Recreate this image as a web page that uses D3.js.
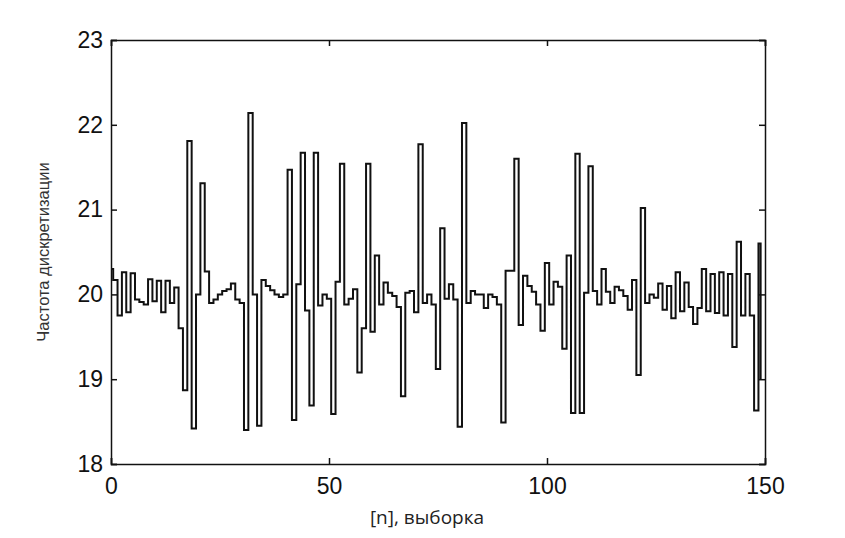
<!DOCTYPE html>
<html>
<head>
<meta charset="utf-8">
<script src="https://cdn.jsdelivr.net/npm/d3@7"></script>
<style>
  html, body { margin: 0; padding: 0; background: #fff; }
  svg { display: block; }
</style>
</head>
<body>
<svg id="chart" width="845" height="538"></svg>
<script>
// Sample values (n = 0..149)
const freq = [
  20.30, 20.17, 19.75, 20.26, 19.79, 20.25, 19.94, 19.91, 19.88, 20.18,
  19.92, 20.16, 19.79, 20.16, 19.90, 20.08, 19.60, 18.87, 21.81, 18.42,
  20.00, 21.31, 20.27, 19.90, 19.94, 20.00, 20.04, 20.06, 20.13, 19.94,
  19.90, 18.40, 22.14, 20.00, 18.45, 20.17, 20.10, 20.05, 20.00, 19.97,
  20.00, 21.47, 18.52, 20.12, 21.67, 19.81, 18.69, 21.67, 19.87, 20.00,
  19.95, 18.59, 20.15, 21.54, 19.88, 19.95, 20.06, 19.08, 19.60, 21.54,
  19.56, 20.46, 19.88, 20.14, 20.02, 19.98, 19.85, 18.80, 20.02, 20.04,
  19.79, 21.77, 19.90, 20.00, 19.88, 19.12, 20.78, 19.95, 20.12, 19.94,
  18.44, 22.02, 19.90, 20.04, 20.00, 20.00, 19.84, 20.00, 19.97, 19.88,
  18.49, 20.28, 20.28, 21.60, 19.64, 20.22, 20.10, 20.03, 19.88, 19.57,
  20.37, 19.88, 20.15, 20.09, 19.36, 20.46, 18.60, 21.66, 18.60, 20.02,
  21.51, 20.04, 19.88, 20.30, 20.03, 19.90, 20.09, 20.05, 19.98, 19.82,
  20.17, 19.05, 21.02, 19.90, 20.00, 19.96, 20.13, 19.82, 20.10, 19.72,
  20.26, 19.80, 20.14, 19.85, 19.65, 19.84, 20.30, 19.80, 20.24, 19.78,
  20.26, 19.75, 20.24, 19.38, 20.62, 19.75, 20.24, 19.75, 18.63, 20.60
];
const finalValue = 19.0;          // last point drawn as a drop at the final sample
const xTicks = [0, 50, 100, 150];
const yTicks = [18, 19, 20, 21, 22, 23];
const xDomain = [0, 150];
const yDomain = [18, 23];
const xLabel = "[n], выборка";
const yLabel = "Частота дискретизации";

const svg = d3.select("#chart");
const plot = { left: 111, right: 765, top: 40, bottom: 464 };

const x = d3.scaleLinear().domain(xDomain).range([plot.left, plot.right]);
const y = d3.scaleLinear().domain(yDomain).range([plot.bottom, plot.top]);

const pts = freq.map((v, i) => [i, v]);
pts.push([freq.length - 1, finalValue]);

const line = d3.line()
  .x(d => x(d[0]))
  .y(d => y(d[1]))
  .curve(d3.curveStep);

svg.append("path")
  .datum(pts)
  .attr("fill", "none")
  .attr("stroke", "#111")
  .attr("stroke-width", 2)
  .attr("stroke-linejoin", "miter")
  .attr("d", line);

const tickFont = "'Liberation Sans', Arial, sans-serif";

// Left axis (inward ticks)
const gl = svg.append("g").attr("transform", `translate(${plot.left},0)`)
  .call(d3.axisLeft(y).tickValues(yTicks).tickSize(-6).tickPadding(8).tickFormat(d3.format("d")));
// Right axis (inward ticks, no labels)
const gr = svg.append("g").attr("transform", `translate(${plot.right},0)`)
  .call(d3.axisRight(y).tickValues(yTicks).tickSize(-6).tickFormat(""));
// Bottom axis
const gb = svg.append("g").attr("transform", `translate(0,${plot.bottom})`)
  .call(d3.axisBottom(x).tickValues(xTicks).tickSize(-6).tickPadding(14).tickFormat(d3.format("d")));
// Top axis
const gt = svg.append("g").attr("transform", `translate(0,${plot.top})`)
  .call(d3.axisTop(x).tickValues(xTicks).tickSize(-6).tickFormat(""));

[gl, gr, gb, gt].forEach(g => {
  g.select(".domain").attr("stroke", "#111").attr("stroke-width", 1.5);
  g.selectAll(".tick line").attr("stroke", "#111").attr("stroke-width", 1.5);
  g.selectAll(".tick text")
    .attr("fill", "#111")
    .style("font-family", tickFont)
    .style("font-size", "23px");
});

svg.append("text")
  .attr("transform", `translate(49,252) rotate(-90)`)
  .attr("text-anchor", "middle")
  .style("font-family", tickFont)
  .style("font-size", "16.5px")
  .attr("fill", "#333")
  .text(yLabel);

svg.append("text")
  .attr("x", 427)
  .attr("y", 524)
  .attr("text-anchor", "middle")
  .style("font-family", "'Open Sans', sans-serif")
  .style("font-size", "19px")
  .attr("fill", "#222")
  .text(xLabel);
</script>
</body>
</html>
